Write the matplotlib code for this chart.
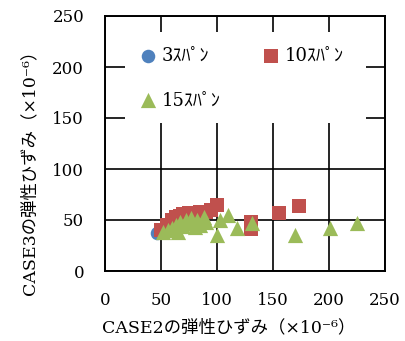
import matplotlib
matplotlib.use("Agg")
import matplotlib.pyplot as plt
from matplotlib.patches import Rectangle

# CASE2 vs CASE3 elastic strain (x10^-6) by span count
span3_x = [46, 50, 54, 58]
span3_y = [37, 38, 39, 41]

span10_x = [50, 55, 60, 63, 67, 70, 75, 80, 85, 90, 95, 100, 130, 130, 155, 173]
span10_y = [40, 45, 50, 53, 54, 56, 57, 57, 58, 58, 60, 65, 48, 41, 57, 64]

span15_x = [52, 56, 60, 63, 65, 67, 70, 72, 75, 77, 80, 82, 85, 88, 90,
            100, 103, 110, 118, 131, 170, 201, 225]
span15_y = [38, 40, 42, 45, 38, 48, 44, 50, 47, 52, 43, 50, 45, 53, 48,
            35, 50, 55, 42, 47, 35, 42, 47]

labels = ["3ｽﾊﾟﾝ", "10ｽﾊﾟﾝ", "15ｽﾊﾟﾝ"]
ticks = [0, 50, 100, 150, 200, 250]
xlabel = "CASE2の弾性ひずみ（×10⁻⁶）"
ylabel = "CASE3の弾性ひずみ（×10⁻⁶）"

FAM = ["DejaVu Serif", "Noto Sans CJK JP"]
plt.rcParams["font.family"] = FAM

fig = plt.figure(figsize=(4.06, 3.41), dpi=100)
ax = fig.add_axes([105 / 406, 1 - 271 / 341, 280 / 406, 255 / 341])

ax.set_xlim(0, 250)
ax.set_ylim(0, 250)
ax.set_xticks(ticks)
ax.set_yticks(ticks)
ax.tick_params(length=0, pad=15, labelsize=12)
for lab in ax.get_xticklabels() + ax.get_yticklabels():
    lab.set_family(FAM)

ax.set_axisbelow(True)
ax.grid(True, color="black", linewidth=1.2)
for sp in ax.spines.values():
    sp.set_linewidth(1.4)
    sp.set_color("black")

h3 = ax.scatter(span3_x, span3_y, s=95, marker="o", color="#4F81BD", zorder=3, linewidths=0)
h10 = ax.scatter(span10_x, span10_y, s=110, marker="s", color="#C0504D", zorder=3, linewidths=0)
h15 = ax.scatter(span15_x, span15_y, s=120, marker="^", color="#9BBB59", zorder=3, linewidths=0)

# white panel behind the legend
ax.add_patch(Rectangle((20 / 280, 148 / 255), 241 / 280, 91 / 255,
                       transform=ax.transAxes, facecolor="white",
                       edgecolor="none", zorder=2.5))

leg = ax.legend([h3, h15, h10], [labels[0], labels[2], labels[1]],
                ncol=2, loc="upper left", bbox_to_anchor=(34 / 280, 224 / 255),
                frameon=False, handlelength=0.95,
                handletextpad=0.3, columnspacing=2.3, labelspacing=1.45,
                borderpad=0, borderaxespad=0, scatterpoints=1,
                prop={"family": FAM, "size": 13})
leg.set_zorder(5)

ax.set_xlabel(xlabel, fontsize=12.5, family=FAM)
ax.set_ylabel(ylabel, fontsize=12.5, family=FAM)
ax.xaxis.label.set_va("center")
ax.yaxis.label.set_va("center")
ax.xaxis.set_label_coords(124 / 280, -57 / 255)
ax.yaxis.set_label_coords(-75 / 280, 103 / 255)

fig.savefig("out.png", dpi=100)
